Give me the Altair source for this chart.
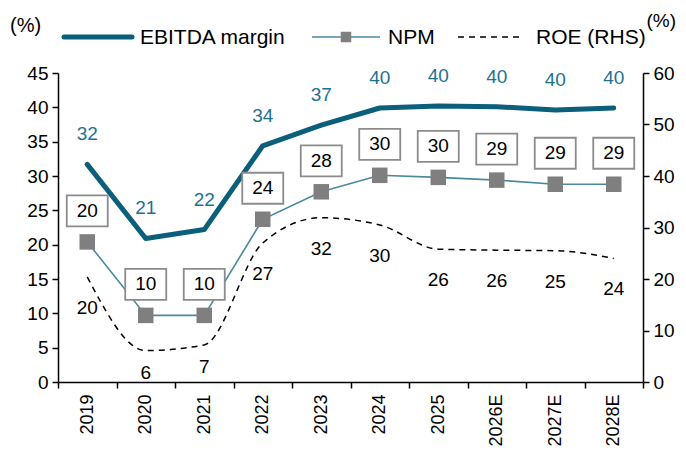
import altair as alt
import pandas as pd

years = ["2019", "2020", "2021", "2022", "2023", "2024", "2025", "2026E", "2027E", "2028E"]
ebitda = [31.7, 20.9, 22.2, 34.4, 37.4, 39.9, 40.2, 40.1, 39.6, 39.9]
ebitda_lbl = [32, 21, 22, 34, 37, 40, 40, 40, 40, 40]
npm = [20.4, 9.7, 9.7, 23.7, 27.7, 30.1, 29.8, 29.4, 28.8, 28.8]
npm_lbl = [20, 10, 10, 24, 28, 30, 30, 29, 29, 29]
roe = [20.4, 6.1, 7.2, 27.0, 31.9, 30.5, 25.8, 25.6, 25.5, 24.0]
roe_lbl = [20, 6, 7, 27, 32, 30, 26, 26, 25, 24]

df = pd.DataFrame({
    "year": years, "ebitda": ebitda, "ebitda_lbl": ebitda_lbl,
    "npm": npm, "npm_lbl": npm_lbl, "roe": roe, "roe_lbl": roe_lbl,
})

FONT = "Liberation Sans"
C_EBITDA = "#0b5f7a"
C_EBITDA_LBL = "#1d7290"
C_NPM = "#4a8a9e"
C_MARK = "#7f7f7f"
C_BOX = "#8c8c8c"

x = alt.X("year:N", sort=years, bandPosition=0.5,
          scale=alt.Scale(type="band", paddingInner=0, paddingOuter=0),
          axis=alt.Axis(title=None, labelAngle=-90, labelAlign="right", labelBaseline="middle",
                        labelFontSize=18, labelPadding=6, tickBand="extent", tickSize=6,
                        domainWidth=1.5, tickWidth=1.5))

yl_scale = alt.Scale(domain=[0, 45], nice=False, zero=True)
yl_axis = alt.Axis(title=None, orient="left", values=list(range(0, 46, 5)), tickSize=6,
                   labelFontSize=19, labelPadding=4, domainWidth=1.5, tickWidth=1.5)
yr_scale = alt.Scale(domain=[0, 60], nice=False, zero=True)
yr_axis = alt.Axis(title=None, orient="right", values=list(range(0, 61, 10)), tickSize=6,
                   labelFontSize=19, labelPadding=4, domainWidth=1.5, tickWidth=1.5)


def yl(field):
    return alt.Y(field, scale=yl_scale, axis=yl_axis)


def yr(field):
    return alt.Y(field, scale=yr_scale, axis=yr_axis)


base = alt.Chart(df)

ebitda_line = base.mark_line(color=C_EBITDA, strokeWidth=5, interpolate="linear",
                             strokeCap="round", strokeJoin="round").encode(
    x=x, y=yl("ebitda:Q"))
ebitda_text = base.mark_text(color=C_EBITDA_LBL, fontSize=19, font=FONT, yOffset=-30).encode(
    x=x, y=yl("ebitda:Q"), text="ebitda_lbl:Q")
npm_line = base.mark_line(color=C_NPM, strokeWidth=1.6, interpolate="linear").encode(
    x=x, y=yl("npm:Q"))
npm_pts = base.mark_point(shape="square", filled=True, color=C_MARK, size=240, opacity=1).encode(
    x=x, y=yl("npm:Q"))
npm_box = base.mark_point(shape="M-1,-0.756L1,-0.756L1,0.756L-1,0.756Z", size=1681,
                          fill="white", stroke=C_BOX, strokeWidth=1.8, opacity=1,
                          fillOpacity=1, yOffset=-31).encode(
    x=x, y=yl("npm:Q"))
npm_text = base.mark_text(color="black", fontSize=19, font=FONT, yOffset=-31).encode(
    x=x, y=yl("npm:Q"), text="npm_lbl:Q")

# manual legend
one = alt.Data(values=[{"a": 1}])
leg_font = 21
lg1 = alt.Chart(one).mark_rule(color=C_EBITDA, strokeWidth=5, strokeCap="round").encode(
    x=alt.value(6), x2=alt.value(74), y=alt.value(-36))
lt1 = alt.Chart(one).mark_text(text="EBITDA margin", align="left", baseline="middle",
                               fontSize=leg_font, font=FONT, color="black").encode(
    x=alt.value(82), y=alt.value(-35))
lg2 = alt.Chart(one).mark_rule(color=C_NPM, strokeWidth=1.6).encode(
    x=alt.value(254), x2=alt.value(322), y=alt.value(-36))
lp2 = alt.Chart(one).mark_point(shape="square", filled=True, color=C_MARK, size=110, opacity=1).encode(
    x=alt.value(288), y=alt.value(-36))
lt2 = alt.Chart(one).mark_text(text="NPM", align="left", baseline="middle",
                               fontSize=leg_font, font=FONT, color="black").encode(
    x=alt.value(330), y=alt.value(-35))
lg3 = alt.Chart(one).mark_rule(color="black", strokeWidth=1.5, strokeDash=[6, 5]).encode(
    x=alt.value(400), x2=alt.value(462), y=alt.value(-36))
lt3 = alt.Chart(one).mark_text(text="ROE (RHS)", align="left", baseline="middle",
                               fontSize=leg_font, font=FONT, color="black").encode(
    x=alt.value(478), y=alt.value(-35))
pct_l = alt.Chart(one).mark_text(text="(%)", align="left", baseline="middle",
                                 fontSize=20, font=FONT, color="black").encode(
    x=alt.value(-48), y=alt.value(-47))
pct_r = alt.Chart(one).mark_text(text="(%)", align="right", baseline="middle",
                                 fontSize=19, font=FONT, color="black").encode(
    x=alt.value(618), y=alt.value(-52))

left = alt.layer(ebitda_line, npm_line, npm_pts, npm_box, npm_text, ebitda_text,
                 lg1, lt1, lg2, lp2, lt2, lg3, lt3, pct_l, pct_r)

roe_line = base.mark_line(color="black", strokeWidth=1.5, strokeDash=[6, 5],
                          interpolate="monotone").encode(
    x=x, y=yr("roe:Q"))
roe_text_hi = base.transform_filter("datum.roe >= 10").mark_text(
    color="black", fontSize=19, font=FONT, yOffset=31).encode(
    x=x, y=yr("roe:Q"), text="roe_lbl:Q")
roe_text_lo = base.transform_filter("datum.roe < 10").mark_text(
    color="black", fontSize=19, font=FONT, yOffset=22).encode(
    x=x, y=yr("roe:Q"), text="roe_lbl:Q")

right = alt.layer(roe_line, roe_text_hi, roe_text_lo)

chart = alt.layer(left, right).resolve_scale(y="independent").properties(
    width=585, height=309,
    padding={"left": 50, "top": 65, "right": 35, "bottom": 64},
    autosize=alt.AutoSizeParams(type="none"),
).configure_view(stroke=None).configure_axis(
    labelFont=FONT, labelColor="black", domainColor="black", tickColor="black", grid=False
)

chart.save("out.html", embed_options={"renderer": "svg", "actions": False})
